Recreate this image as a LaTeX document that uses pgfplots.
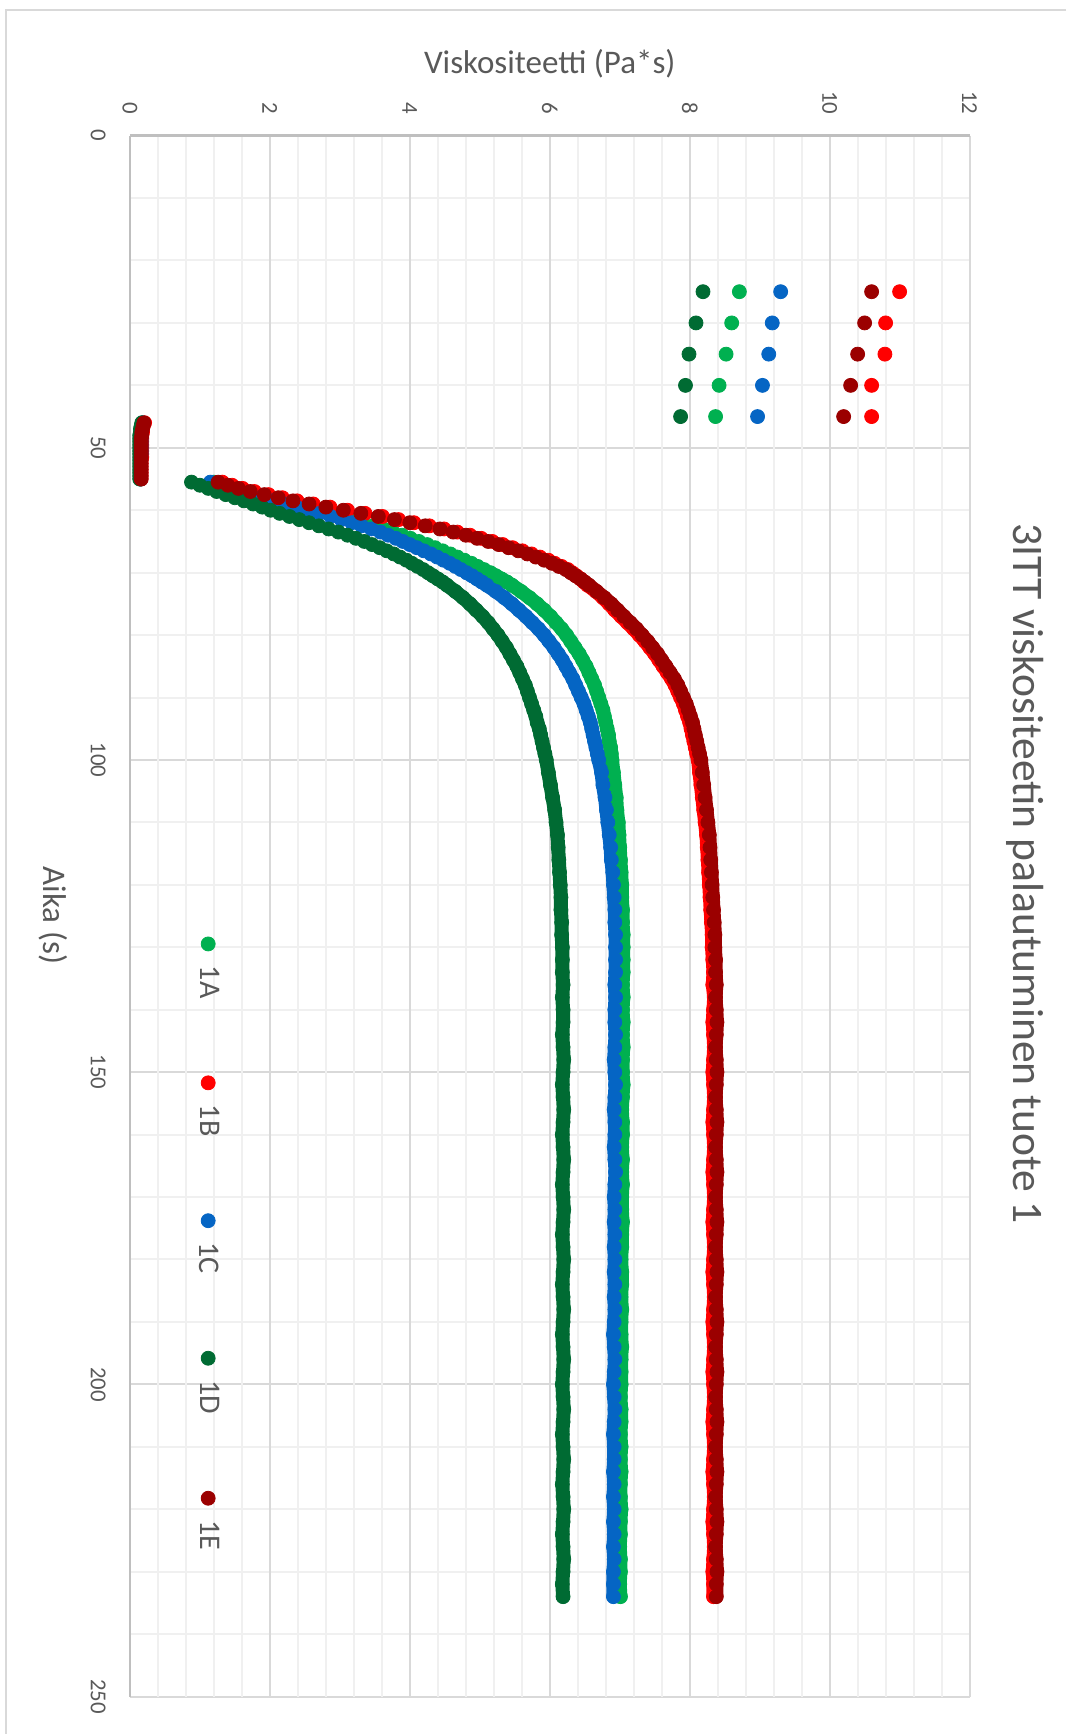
\documentclass[border=0pt]{standalone}
\usepackage{fontspec}
\setmainfont{Carlito}
\usepackage{pgfplots}
\usepackage{pgfplotstable}
\pgfplotsset{compat=1.18}

\definecolor{textgray}{HTML}{595959}
\definecolor{gridmajor}{HTML}{D9D9D9}
\definecolor{gridminor}{HTML}{F0F0F0}
\definecolor{axisgray}{HTML}{BFBFBF}
\definecolor{framegray}{HTML}{D9D9D9}
\definecolor{cA}{HTML}{00B050}
\definecolor{cB}{HTML}{FF0000}
\definecolor{cC}{HTML}{0565C4}
\definecolor{cD}{HTML}{006B33}
\definecolor{cE}{HTML}{9B0000}

% viscosity (Pa*s) of samples 1A-1E against time (s)
\pgfplotstableread{
t A B C D E
25 8.71 11.00 9.30 8.19 10.60
30 8.60 10.80 9.18 8.09 10.50
35 8.52 10.79 9.13 7.99 10.40
40 8.42 10.60 9.04 7.94 10.30
45 8.37 10.60 8.97 7.87 10.20
46 0.18 0.21 0.18 0.17 0.20
46.5 0.17 0.19 0.17 0.16 0.19
47 0.17 0.18 0.17 0.15 0.18
47.5 0.16 0.18 0.16 0.15 0.17
48 0.16 0.17 0.16 0.14 0.17
48.5 0.16 0.17 0.16 0.14 0.16
49 0.16 0.17 0.16 0.14 0.16
49.5 0.16 0.17 0.16 0.14 0.16
50 0.16 0.17 0.16 0.14 0.16
50.5 0.15 0.17 0.16 0.14 0.16
51 0.15 0.17 0.16 0.14 0.16
51.5 0.15 0.17 0.15 0.14 0.16
52 0.15 0.16 0.15 0.14 0.16
52.5 0.15 0.16 0.15 0.14 0.16
53 0.15 0.16 0.15 0.14 0.16
53.5 0.15 0.16 0.15 0.14 0.16
54 0.15 0.16 0.15 0.14 0.16
54.5 0.15 0.16 0.15 0.14 0.16
55 0.15 0.16 0.15 0.14 0.16
55.5 1.20 1.32 1.15 0.88 1.26
56 1.33 1.46 1.28 1.00 1.40
56.5 1.47 1.61 1.42 1.12 1.55
57 1.62 1.78 1.56 1.24 1.72
57.5 1.78 1.98 1.72 1.37 1.92
58 1.95 2.18 1.88 1.50 2.12
58.5 2.12 2.39 2.04 1.63 2.33
59 2.30 2.62 2.21 1.76 2.56
59.5 2.48 2.86 2.38 1.89 2.80
60 2.66 3.11 2.55 2.01 3.05
60.5 2.84 3.36 2.71 2.14 3.30
61 3.01 3.61 2.87 2.28 3.55
61.5 3.17 3.84 3.02 2.42 3.78
62 3.33 4.06 3.17 2.56 4.00
62.5 3.48 4.28 3.31 2.70 4.22
63 3.62 4.49 3.45 2.84 4.43
63.5 3.76 4.68 3.58 2.98 4.62
64 3.89 4.86 3.69 3.11 4.80
64.5 4.01 5.02 3.80 3.23 4.96
65 4.13 5.18 3.90 3.35 5.12
65.5 4.25 5.33 4.00 3.46 5.27
66 4.36 5.47 4.10 3.57 5.41
66.5 4.47 5.61 4.20 3.67 5.55
67 4.58 5.74 4.30 3.77 5.68
67.5 4.68 5.86 4.39 3.86 5.80
68 4.78 5.98 4.48 3.95 5.92
68.5 4.88 6.07 4.57 4.03 6.03
69 4.97 6.17 4.65 4.11 6.13
69.5 5.06 6.26 4.73 4.19 6.23
70 5.15 6.32 4.81 4.26 6.30
70.5 5.23 6.38 4.89 4.33 6.37
71 5.31 6.44 4.96 4.40 6.44
71.5 5.39 6.49 5.03 4.47 6.50
72 5.46 6.54 5.10 4.53 6.56
73 5.59 6.66 5.23 4.65 6.67
74 5.71 6.76 5.35 4.76 6.78
75 5.82 6.85 5.46 4.86 6.88
76 5.92 6.93 5.56 4.95 6.97
77 6.01 7.02 5.66 5.04 7.06
78 6.09 7.11 5.75 5.12 7.15
79 6.17 7.20 5.84 5.19 7.24
80 6.24 7.28 5.92 5.26 7.32
81 6.30 7.36 5.99 5.32 7.40
82 6.36 7.43 6.06 5.38 7.47
83 6.42 7.50 6.12 5.43 7.54
84 6.47 7.56 6.18 5.48 7.60
85 6.52 7.62 6.23 5.53 7.66
86 6.56 7.68 6.28 5.57 7.72
87 6.60 7.74 6.33 5.61 7.78
88 6.64 7.79 6.37 5.65 7.83
89 6.67 7.83 6.41 5.68 7.87
90 6.70 7.87 6.45 5.71 7.91
91 6.73 7.91 6.49 5.74 7.95
92 6.76 7.94 6.52 5.77 7.98
93 6.78 7.97 6.55 5.80 8.01
94 6.80 8.00 6.58 5.82 8.04
95 6.82 8.02 6.60 5.85 8.06
96 6.84 8.04 6.62 5.87 8.08
97 6.85 8.06 6.64 5.89 8.10
98 6.87 8.08 6.66 5.91 8.12
99 6.88 8.10 6.68 5.93 8.14
100 6.89 8.12 6.70 5.95 8.16
102 6.91 8.14 6.74 5.98 8.18
104 6.93 8.16 6.76 6.01 8.20
106 6.95 8.18 6.79 6.04 8.22
108 6.96 8.20 6.81 6.07 8.24
110 6.98 8.22 6.83 6.09 8.26
112 6.99 8.24 6.85 6.11 8.28
114 7.00 8.25 6.87 6.12 8.29
116 7.01 8.26 6.88 6.13 8.30
118 7.02 8.27 6.90 6.14 8.31
120 7.03 8.28 6.91 6.15 8.32
122 7.03 8.29 6.92 6.16 8.33
124 7.04 8.30 6.93 6.16 8.34
126 7.04 8.31 6.93 6.17 8.35
128 7.05 8.32 6.94 6.17 8.36
130 7.05 8.32 6.94 6.18 8.36
132 7.05 8.33 6.94 6.18 8.37
134 7.05 8.34 6.94 6.18 8.37
136 7.04 8.33 6.93 6.19 8.38
138 7.05 8.35 6.94 6.18 8.37
140 7.04 8.34 6.93 6.19 8.38
142 7.05 8.33 6.93 6.19 8.39
144 7.04 8.34 6.94 6.18 8.38
146 7.05 8.35 6.93 6.19 8.37
148 7.04 8.34 6.92 6.20 8.38
150 7.04 8.33 6.93 6.19 8.39
152 7.05 8.34 6.94 6.18 8.38
154 7.04 8.35 6.93 6.19 8.37
156 7.03 8.34 6.92 6.20 8.38
158 7.04 8.33 6.93 6.19 8.39
160 7.04 8.34 6.93 6.18 8.38
162 7.03 8.35 6.92 6.19 8.37
164 7.04 8.34 6.93 6.20 8.38
166 7.03 8.33 6.94 6.19 8.39
168 7.04 8.34 6.93 6.18 8.38
170 7.03 8.35 6.92 6.19 8.37
172 7.03 8.34 6.93 6.20 8.38
174 7.04 8.33 6.92 6.19 8.39
176 7.03 8.34 6.93 6.18 8.38
178 7.03 8.35 6.92 6.19 8.37
180 7.02 8.34 6.93 6.20 8.38
182 7.03 8.33 6.92 6.19 8.39
184 7.03 8.34 6.93 6.18 8.38
186 7.02 8.35 6.92 6.19 8.37
188 7.03 8.34 6.93 6.20 8.38
190 7.02 8.33 6.92 6.19 8.39
192 7.02 8.34 6.91 6.18 8.38
194 7.03 8.35 6.92 6.19 8.37
196 7.02 8.34 6.93 6.20 8.38
198 7.02 8.33 6.92 6.19 8.39
200 7.02 8.34 6.91 6.18 8.38
202 7.01 8.35 6.92 6.19 8.37
204 7.02 8.34 6.93 6.20 8.38
206 7.02 8.33 6.92 6.19 8.39
208 7.01 8.34 6.91 6.18 8.38
210 7.02 8.35 6.92 6.19 8.37
212 7.01 8.34 6.92 6.20 8.38
214 7.02 8.33 6.91 6.19 8.39
216 7.01 8.34 6.92 6.18 8.38
218 7.01 8.35 6.91 6.19 8.37
220 7.02 8.34 6.92 6.20 8.38
222 7.01 8.33 6.91 6.19 8.39
224 7.01 8.34 6.92 6.18 8.38
226 7.00 8.35 6.91 6.19 8.37
228 7.01 8.34 6.92 6.20 8.38
230 7.01 8.33 6.91 6.19 8.39
232 7.00 8.34 6.91 6.18 8.38
234 7.01 8.34 6.91 6.19 8.38
}\visc

\pgfplotsset{
  dots/.style={only marks, mark=*, mark size=3.5pt, color=#1,
    mark options={draw=none, fill=#1},
    legend image code/.code={\draw[##1] plot coordinates {(0pt,0pt)};}},
  band/.style={forget plot, no marks, draw=#1, line width=7pt,
    line cap=round, line join=round, restrict x to domain=70:240},
}

\begin{document}
\begin{tikzpicture}[rotate=-90, transform shape]
\begin{axis}[
  scale only axis, width=780.8pt, height=420pt,
  xmin=0, xmax=250, ymin=0, ymax=12,
  clip=false,
  xtick={0,50,...,250}, ytick={0,2,...,12},
  minor x tick num=4, minor y tick num=4,
  grid=both,
  major grid style={draw=gridmajor, line width=1pt},
  minor grid style={draw=gridminor, line width=1pt},
  axis line style={draw=none},
  tick style={draw=none},
  extra x ticks={0}, extra x tick labels={},
  extra y ticks={0}, extra y tick labels={},
  extra tick style={grid=major, major grid style={draw=axisgray, line width=1.2pt}},
  /pgf/number format/assume math mode=true,
  ticklabel style={font=\fontsize{11.4}{13}\selectfont, text=textgray},
  xticklabel style={anchor=north, inner sep=0pt, yshift=-12pt},
  yticklabel style={anchor=east, inner sep=0pt, xshift=-10.4pt},
  xlabel={Aika (s)},
  ylabel={Viskositeetti (Pa*s)},
  every axis x label/.style={at={(axis description cs:0.4996,-0.0734)}, anchor=north,
    inner sep=0pt, font=\fontsize{16.5}{20}\selectfont, text=textgray},
  every axis y label/.style={at={(axis description cs:-0.0369,0.5)}, rotate=90, anchor=south,
    inner sep=0pt, font=\fontsize{16.5}{20}\selectfont, text=textgray},
  title={3ITT viskositeetin palautuminen tuote 1},
  title style={at={(axis description cs:0.4728,1.075)}, anchor=north, inner sep=0pt,
    font=\fontsize{21.8}{26}\selectfont, text=textgray},
  legend columns=5,
  legend style={at={(axis description cs:0.5131,0.0932)}, anchor=west,
    draw=none, fill=none, inner sep=0pt,
    font=\fontsize{15}{18}\selectfont, text=textgray,
    nodes={inner sep=0pt},
    /tikz/every odd column/.append style={column sep=7.5pt},
    /tikz/every even column/.append style={column sep=38.7pt}},
]
% chart-area extent and its frame
\path (axis cs:-21.72,-1.857) -- (axis cs:256.04,13.4);
\draw[draw=framegray, line width=1pt]
  (axis cs:-20.12,13.38) -- (axis cs:-20.12,-1.771) -- (axis cs:256.0,-1.771);

\addplot[band=cA] table[x=t, y=A] {\visc};
\addplot[dots=cA] table[x=t, y=A] {\visc};
\addlegendentry{1A}
\addplot[band=cB] table[x=t, y=B] {\visc};
\addplot[dots=cB] table[x=t, y=B] {\visc};
\addlegendentry{1B}
\addplot[band=cC] table[x=t, y=C] {\visc};
\addplot[dots=cC] table[x=t, y=C] {\visc};
\addlegendentry{1C}
\addplot[band=cD] table[x=t, y=D] {\visc};
\addplot[dots=cD] table[x=t, y=D] {\visc};
\addlegendentry{1D}
\addplot[band=cE] table[x=t, y=E] {\visc};
\addplot[dots=cE] table[x=t, y=E] {\visc};
\addlegendentry{1E}
\end{axis}
\end{tikzpicture}
\end{document}
